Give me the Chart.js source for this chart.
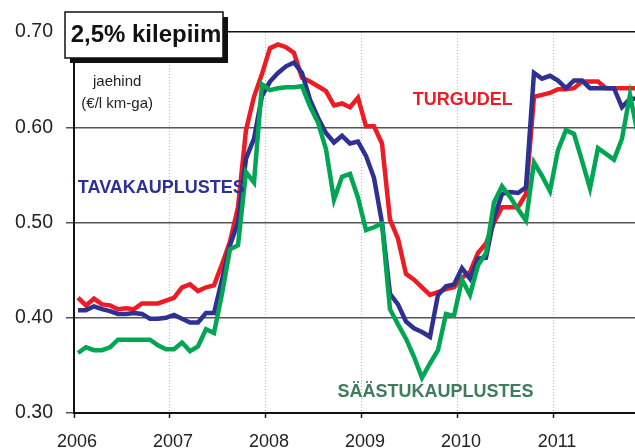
<!DOCTYPE html>
<html>
<head>
<meta charset="utf-8">
<script src="https://cdn.jsdelivr.net/npm/chart.js@4"></script>
<style>
html,body{margin:0;padding:0;background:#fff;}
#wrap{width:635px;height:448px;position:relative;}
</style>
</head>
<body>
<div id="wrap"><canvas id="c" width="635" height="448"></canvas></div>
<script>
// ---- data (monthly, Jan 2006 .. Nov 2011) ----
const startYear = 2006;
const yearTicks = [2006, 2007, 2008, 2009, 2010, 2011];
const yTicks = [0.30, 0.40, 0.50, 0.60, 0.70];

const turgudel = [
  0.421,0.413,0.420,0.414,0.413,0.409,0.410,0.409,0.415,0.415,0.415,0.418,
  0.421,0.432,0.435,0.428,0.432,0.434,0.456,0.480,0.516,0.597,0.632,0.656,
  0.683,0.687,0.684,0.678,0.652,0.648,0.643,0.638,0.623,0.625,0.621,0.631,
  0.601,0.601,0.583,0.503,0.483,0.446,0.440,0.432,0.424,0.427,0.430,0.432,
  0.442,0.448,0.468,0.478,0.500,0.516,0.516,0.516,0.530,0.632,0.634,0.636,
  0.640,0.640,0.641,0.648,0.648,0.648,0.641,0.641,0.641,0.641,0.641
];
const tavakauplustes = [
  0.408,0.408,0.412,0.409,0.407,0.404,0.404,0.405,0.404,0.399,0.399,0.400,
  0.403,0.399,0.395,0.395,0.405,0.405,0.440,0.476,0.500,0.567,0.588,0.633,
  0.648,0.657,0.664,0.668,0.657,0.629,0.610,0.594,0.584,0.591,0.583,0.585,
  0.570,0.547,0.500,0.425,0.414,0.396,0.389,0.385,0.380,0.424,0.433,0.435,
  0.452,0.441,0.462,0.463,0.505,0.530,0.532,0.531,0.537,0.657,0.651,0.654,
  0.649,0.641,0.649,0.649,0.641,0.641,0.641,0.641,0.621,0.630,0.630
];
const saastukauplustes = [
  0.363,0.369,0.366,0.366,0.369,0.377,0.377,0.377,0.377,0.377,0.371,0.367,
  0.367,0.374,0.365,0.370,0.388,0.384,0.425,0.472,0.476,0.553,0.542,0.645,
  0.639,0.641,0.642,0.642,0.643,0.622,0.605,0.577,0.524,0.548,0.551,0.526,
  0.492,0.495,0.499,0.409,0.393,0.378,0.359,0.337,0.352,0.366,0.404,0.402,
  0.440,0.424,0.455,0.468,0.521,0.538,0.527,0.514,0.502,0.563,0.549,0.533,
  0.576,0.597,0.593,0.565,0.536,0.578,0.572,0.566,0.588,0.634,0.592
];

// month position (mid-month, decimal year)
const monthPos = turgudel.map((_, i) => startYear + (i + 0.5) / 12);
const toXY = arr => arr.map((v, i) => ({x: monthPos[i], y: v}));

const FONT = '"Liberation Sans", Arial, Helvetica, sans-serif';

const labelsCfg = [
  {text:'TURGUDEL', x:2010.05, y:0.6285, color:'#ed1c24', font:'bold 18px '+FONT, align:'center'},
  {text:'TAVAKAUPLUSTES', x:2006.04, y:0.536, color:'#2e3192', font:'bold 18px '+FONT, align:'left'},
  {text:'SÄÄSTUKAUPLUSTES', x:2009.765, y:0.3225, color:'#3f7c5b', font:'bold 18px '+FONT, align:'center'},
  {text:'jaehind', x:2006.45, y:0.6475, color:'#222', font:'15px '+FONT, align:'center'},
  {text:'(€/l km-ga)', x:2006.45, y:0.6245, color:'#222', font:'15px '+FONT, align:'center'}
];

const overlay = {
  id: 'overlay',
  afterDatasetsDraw(chart) {
    const ctx = chart.ctx, xs = chart.scales.x, ys = chart.scales.y;
    ctx.save();
    ctx.textBaseline = 'middle';
    labelsCfg.forEach(l => {
      ctx.font = l.font;
      ctx.fillStyle = l.color;
      ctx.textAlign = l.align;
      ctx.fillText(l.text, xs.getPixelForValue(l.x), ys.getPixelForValue(l.y));
    });
    ctx.restore();
  },
  afterDraw(chart) {
    const ctx = chart.ctx;
    ctx.save();
    // title box with drop shadow
    ctx.fillStyle = '#111';
    ctx.fillRect(70, 17, 158, 46);
    ctx.fillStyle = '#fff';
    ctx.fillRect(65, 12, 158, 46);
    ctx.strokeStyle = '#111';
    ctx.lineWidth = 1.5;
    ctx.strokeRect(65, 12, 158, 46);
    ctx.fillStyle = '#111';
    ctx.font = 'bold 24px ' + FONT;
    ctx.textAlign = 'center';
    ctx.textBaseline = 'middle';
    ctx.fillText('2,5% kilepiim', 146, 35);
    ctx.restore();
  }
};

new Chart(document.getElementById('c'), {
  type: 'line',
  data: {
    datasets: [
      {label:'SÄÄSTUKAUPLUSTES', data: toXY(saastukauplustes), borderColor:'#00a651', order:1},
      {label:'TAVAKAUPLUSTES', data: toXY(tavakauplustes), borderColor:'#2e3192', order:2},
      {label:'TURGUDEL', data: toXY(turgudel), borderColor:'#ed1c24', order:3}
    ]
  },
  options: {
    responsive: false,
    animation: false,
    devicePixelRatio: 1,
    layout: {padding: {top: 32, right: 0, bottom: 0, left: 0}},
    elements: {
      line: {borderWidth: 4.5, tension: 0, fill: false},
      point: {radius: 0}
    },
    plugins: {legend: {display: false}, tooltip: {enabled: false}},
    scales: {
      x: {
        type: 'linear',
        min: 2006,
        max: 2011.844,
        afterBuildTicks: s => { s.ticks = yearTicks.map(v => ({value: v})); },
        afterFit: s => { s.height = 35; },
        ticks: {
          color: '#222',
          font: {family: FONT, size: 18},
          padding: 13,
          labelOffset: 3,
          maxRotation: 0,
          callback: v => String(v)
        },
        grid: {
          color: '#b4b4b4',
          lineWidth: 1,
          tickLength: 5,
          tickColor: '#222',
          tickWidth: 1.5,
          tickBorderDash: []
        },
        border: {display: true, color: '#111', width: 2, dash: [1, 2]}
      },
      y: {
        min: 0.30,
        max: 0.70,
        afterBuildTicks: s => { s.ticks = yTicks.map(v => ({value: v})); },
        afterFit: s => { s.width = 74; },
        ticks: {
          color: '#222',
          font: {family: FONT, size: 19.5},
          padding: 13,
          callback: v => v.toFixed(2)
        },
        grid: {
          color: ctx => (ctx.tick && Math.abs(ctx.tick.value - 0.7) < 1e-6) ? '#111' : '#555',
          lineWidth: 1.5,
          tickLength: 8
        },
        border: {display: true, color: '#111', width: 2}
      }
    }
  },
  plugins: [overlay]
});
</script>
</body>
</html>
